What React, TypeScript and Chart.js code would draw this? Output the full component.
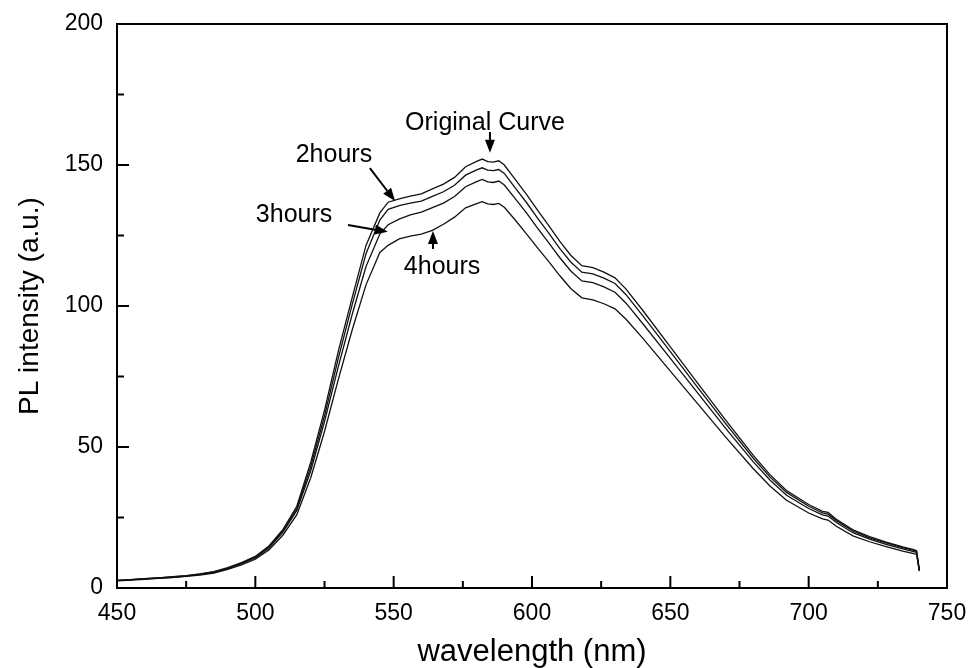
import React, { useEffect, useRef } from "react";
import { Chart, registerables } from "chart.js";

Chart.register(...registerables);

const wavelength = [450,455,460,465,470,475,480,485,490,495,500,505,510,515,520,525,530,535,540,545,548,552,556,560,564,568,572,576,580,582,584,586,588,590,594,598,602,606,610,614,618,622,626,630,634,640,650,660,670,680,686,692,700,705,707,710,716,722,728,734,738,739,740];

const originalCurve = [2.7,3.0,3.3,3.6,4.0,4.4,5.0,5.8,7.2,9.0,11.2,15.0,20.8,29.0,44.5,63.0,84.0,103.0,121.5,133.0,136.8,138.0,139.0,139.8,141.5,143.2,145.6,149.4,151.3,152.1,151.2,151.0,151.5,150.0,144.8,139.6,134.0,128.6,123.0,118.0,114.3,113.6,112.0,110.0,106.0,98.5,85.5,72.5,59.5,47.0,40.2,34.6,29.6,27.2,26.8,24.4,20.6,18.2,16.3,14.6,13.6,13.2,6.4];

const hours2 = [2.7,3.0,3.3,3.6,3.9,4.3,4.9,5.7,7.0,8.8,11.0,14.7,20.3,28.2,43.0,61.0,81.5,100.5,118.5,130.5,134.3,135.6,136.5,137.2,138.9,140.5,142.8,146.4,148.3,149.0,148.2,148.0,148.4,147.0,141.8,136.7,131.2,125.9,120.4,115.6,112.0,111.4,109.9,108.0,104.0,96.6,83.8,71.0,58.3,46.0,39.4,33.9,29.0,26.6,26.2,23.9,20.2,17.8,16.0,14.3,13.3,12.9,6.3];

const hours3 = [2.6,2.9,3.2,3.5,3.8,4.2,4.8,5.5,6.9,8.6,10.7,14.3,19.8,27.5,41.5,59.0,78.5,97.0,114.0,125.5,128.8,130.8,132.3,133.3,134.9,136.5,138.8,142.3,144.1,144.9,144.0,143.8,144.3,142.9,138.0,133.0,127.6,122.5,117.2,112.4,108.9,108.3,106.8,104.9,101.0,93.8,81.4,69.0,56.6,44.7,38.3,32.9,28.2,25.9,25.5,23.2,19.6,17.3,15.5,13.9,12.9,12.6,6.2];

const hours4 = [2.5,2.8,3.1,3.4,3.7,4.1,4.6,5.3,6.6,8.2,10.2,13.6,18.8,26.0,39.0,55.5,74.0,91.5,107.5,119.0,121.5,123.8,124.8,125.5,126.8,129.0,131.5,134.8,136.3,137.0,136.2,136.0,136.4,135.0,130.4,125.6,120.6,115.8,110.8,106.2,102.9,102.2,100.8,99.0,95.3,88.6,76.9,65.2,53.5,42.3,36.2,31.1,26.6,24.5,24.1,21.9,18.5,16.4,14.7,13.1,12.2,11.9,6.0];

const seriesNames = ["Original Curve", "2hours", "3hours", "4hours"];

// annotation labels and arrows (data units)
const noteLabels = ["Original Curve", "2hours", "3hours", "4hours"];
const noteTextX = [583.0, 528.4, 514.0, 567.5];
const noteTextY = [164.9, 153.5, 132.3, 113.8];
const arrowFromX = [584.8, 541.4, 533.5, 564.2];
const arrowFromY = [161.7, 148.9, 128.7, 120.2];
const arrowToX = [584.8, 550.5, 547.9, 564.2];
const arrowToY = [154.3, 137.2, 126.3, 126.6];

const xTitle = "wavelength (nm)";
const yTitle = "PL intensity (a.u.)";

const FONT = "'Liberation Sans', Arial, Helvetica, sans-serif";

const framePlugin = {
  id: "frame",
  afterDraw(chart: any) {
    const { ctx, chartArea } = chart;
    const xs = chart.scales.x;
    const ys = chart.scales.y;
    const { left, right, top, bottom } = chartArea;
    ctx.save();
    ctx.strokeStyle = "#000";
    ctx.lineWidth = 2;
    ctx.strokeRect(left, top, right - left, bottom - top);

    // ticks (inward, major + minor)
    const xv = xs.ticks.map((t: any) => t.value);
    ctx.beginPath();
    for (let i = 0; i < xv.length; i++) {
      const px = xs.getPixelForValue(xv[i]);
      ctx.moveTo(px, bottom);
      ctx.lineTo(px, bottom - 12);
      if (i < xv.length - 1) {
        const pm = xs.getPixelForValue((xv[i] + xv[i + 1]) / 2);
        ctx.moveTo(pm, bottom);
        ctx.lineTo(pm, bottom - 7);
      }
    }
    const yv = ys.ticks.map((t: any) => t.value);
    for (let i = 0; i < yv.length; i++) {
      const py = ys.getPixelForValue(yv[i]);
      ctx.moveTo(left, py);
      ctx.lineTo(left + 12, py);
      if (i < yv.length - 1) {
        const pm = ys.getPixelForValue((yv[i] + yv[i + 1]) / 2);
        ctx.moveTo(left, pm);
        ctx.lineTo(left + 7, pm);
      }
    }
    ctx.stroke();

    // annotations
    ctx.fillStyle = "#000";
    ctx.font = `25px ${FONT}`;
    ctx.textAlign = "center";
    ctx.textBaseline = "middle";
    for (let i = 0; i < noteLabels.length; i++) {
      ctx.fillText(noteLabels[i], xs.getPixelForValue(noteTextX[i]), ys.getPixelForValue(noteTextY[i]));
      const x0 = xs.getPixelForValue(arrowFromX[i]);
      const y0 = ys.getPixelForValue(arrowFromY[i]);
      const x1 = xs.getPixelForValue(arrowToX[i]);
      const y1 = ys.getPixelForValue(arrowToY[i]);
      const ang = Math.atan2(y1 - y0, x1 - x0);
      const head = 13;
      const hw = 5;
      const bx = x1 - head * Math.cos(ang);
      const by = y1 - head * Math.sin(ang);
      ctx.lineWidth = 2;
      ctx.beginPath();
      ctx.moveTo(x0, y0);
      ctx.lineTo(bx, by);
      ctx.stroke();
      ctx.beginPath();
      ctx.moveTo(x1, y1);
      ctx.lineTo(bx + hw * Math.sin(ang), by - hw * Math.cos(ang));
      ctx.lineTo(bx - hw * Math.sin(ang), by + hw * Math.cos(ang));
      ctx.closePath();
      ctx.fill();
    }
    ctx.restore();
  },
};

export default function App() {
  const ref = useRef<HTMLCanvasElement | null>(null);
  useEffect(() => {
    if (!ref.current) return;
    const series = [originalCurve, hours2, hours3, hours4];
    const chart = new Chart(ref.current, {
      type: "line",
      data: {
        datasets: series.map((s, i) => ({
          label: seriesNames[i],
          data: wavelength.map((w, j) => ({ x: w, y: s[j] })),
          borderColor: "#111",
          borderWidth: 1.3,
          pointRadius: 0,
          tension: 0,
          fill: false,
        })),
      },
      options: {
        responsive: false,
        animation: false,
        layout: { padding: { top: 24, right: 21, left: 0, bottom: 0 } },
        plugins: { legend: { display: false }, tooltip: { enabled: false } },
        scales: {
          x: {
            type: "linear",
            min: 450,
            max: 750,
            ticks: { stepSize: 50, color: "#000", font: { family: FONT, size: 23 }, padding: 12, maxRotation: 0, autoSkip: false },
            grid: { display: false, drawTicks: false },
            border: { display: false },
            title: { display: true, text: xTitle, color: "#000", font: { family: FONT, size: 31 }, padding: { top: 0, bottom: -3 } },
            afterFit: (s: any) => { s.height = 80; s.paddingLeft = 0; s.paddingRight = 0; },
          },
          y: {
            type: "linear",
            min: 0,
            max: 200,
            ticks: { stepSize: 50, color: "#000", font: { family: FONT, size: 23 }, padding: 14 },
            grid: { display: false, drawTicks: false },
            border: { display: false },
            title: { display: true, text: yTitle, color: "#000", font: { family: FONT, size: 28 }, padding: { top: 13, bottom: 0 } },
            afterFit: (s: any) => { s.width = 117; s.paddingTop = 0; s.paddingBottom = 0; },
          },
        },
      },
      plugins: [framePlugin],
    });
    return () => chart.destroy();
  }, []);
  return (
    <div style={{ position: "fixed", left: 0, top: 0, width: 968, height: 668, background: "#fff" }}>
      <canvas ref={ref} width={968} height={668} style={{ width: 968, height: 668 }} />
    </div>
  );
}
